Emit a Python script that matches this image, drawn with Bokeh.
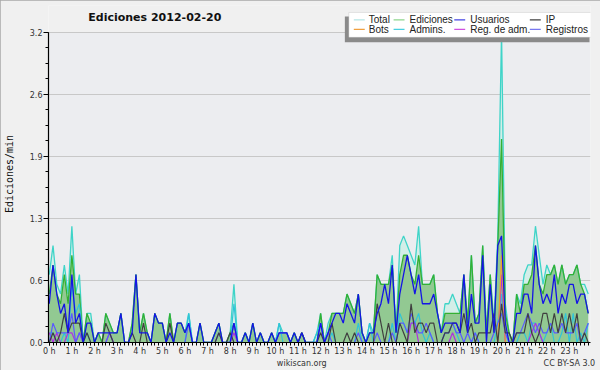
import math
from bokeh.plotting import figure
from bokeh.models import Range1d, FixedTicker, Label, BoxAnnotation, LinearAxis
from bokeh.embed import file_html
from bokeh.resources import INLINE

# ---------------- data (edits per minute, 10-minute buckets) ----------------
hour_labels = [f"{h} h" for h in range(24)]
ytick_values = [0, 0.64, 1.28, 1.92, 2.56, 3.2]
ytick_labels = ["0.0", "0.6", "1.3", "1.9", "2.6", "3.2"]
legend_names = ["Total", "Ediciones", "Usuarios", "IP",
                "Bots", "Admins.", "Reg. de adm.", "Registros"]
footer_texts = ["wikiscan.org", "CC BY-SA 3.0"]

total = [
    0.7, 1.0, 0.6, 0.5, 0.8, 0.5,
    1.2, 0.5, 0.7, 0.0, 0.3, 0.3,
    0.0, 0.1, 0.0, 0.3, 0.2, 0.1,
    0.1, 0.3, 0.0, 0.0, 0.2, 0.7,
    0.1, 0.3, 0.1, 0.0, 0.3, 0.2,
    0.2, 0.0, 0.3, 0.0, 0.2, 0.2,
    0.1, 0.3, 0.0, 0.0, 0.2, 0.0,
    0.0, 0.0, 0.1, 0.2, 0.0, 0.0,
    0.1, 0.6, 0.0, 0.0, 0.1, 0.0,
    0.2, 0.0, 0.1, 0.0, 0.0, 0.1,
    0.0, 0.2, 0.1, 0.1, 0.0, 0.1,
    0.0, 0.1, 0.0, 0.0, 0.0, 0.1,
    0.3, 0.0, 0.2, 0.3, 0.3, 0.3,
    0.3, 0.5, 0.4, 0.3, 0.5, 0.1,
    0.0, 0.2, 0.1, 0.7, 0.6, 0.6,
    0.6, 0.9, 0.1, 1.0, 1.1, 1.0,
    0.9, 0.8, 1.2, 0.6, 0.6, 0.6,
    0.7, 0.3, 0.1, 0.4, 0.4, 0.5,
    0.4, 0.3, 0.7, 0.2, 0.9, 0.2,
    0.3, 1.0, 0.1, 0.7, 0.2, 1.1,
    3.2, 0.4, 0.1, 0.0, 0.5, 0.4,
    0.7, 0.8, 0.8, 1.2, 0.9, 0.6,
    0.8, 0.7, 0.8, 0.6, 0.8, 0.6,
    0.7, 0.7, 0.8, 0.6, 0.6, 0.5,
]
ediciones = [
    0.5, 0.8, 0.5, 0.4, 0.7, 0.4,
    0.9, 0.5, 0.5, 0.0, 0.3, 0.2,
    0.0, 0.1, 0.0, 0.3, 0.2, 0.1,
    0.1, 0.3, 0.0, 0.0, 0.2, 0.7,
    0.1, 0.3, 0.1, 0.0, 0.3, 0.2,
    0.2, 0.0, 0.3, 0.0, 0.2, 0.2,
    0.1, 0.2, 0.0, 0.0, 0.2, 0.0,
    0.0, 0.0, 0.1, 0.2, 0.0, 0.0,
    0.1, 0.2, 0.0, 0.0, 0.1, 0.0,
    0.2, 0.0, 0.1, 0.0, 0.0, 0.1,
    0.0, 0.1, 0.1, 0.1, 0.0, 0.1,
    0.0, 0.1, 0.0, 0.0, 0.0, 0.0,
    0.3, 0.0, 0.1, 0.3, 0.3, 0.3,
    0.3, 0.5, 0.4, 0.3, 0.5, 0.1,
    0.0, 0.1, 0.1, 0.7, 0.6, 0.6,
    0.6, 0.8, 0.1, 0.7, 0.9, 0.9,
    0.7, 0.6, 0.9, 0.6, 0.6, 0.6,
    0.7, 0.3, 0.1, 0.3, 0.3, 0.3,
    0.3, 0.3, 0.7, 0.2, 0.9, 0.2,
    0.3, 1.0, 0.1, 0.7, 0.1, 1.0,
    2.1, 0.3, 0.1, 0.0, 0.5, 0.3,
    0.6, 0.6, 0.7, 1.0, 0.6, 0.5,
    0.7, 0.7, 0.8, 0.6, 0.8, 0.6,
    0.7, 0.7, 0.8, 0.6, 0.5, 0.3,
]
usuarios = [
    0.4, 0.8, 0.5, 0.3, 0.4, 0.1,
    0.7, 0.2, 0.3, 0.0, 0.2, 0.2,
    0.0, 0.1, 0.1, 0.1, 0.1, 0.1,
    0.1, 0.3, 0.0, 0.0, 0.1, 0.7,
    0.1, 0.1, 0.1, 0.0, 0.3, 0.2,
    0.2, 0.0, 0.1, 0.0, 0.2, 0.2,
    0.1, 0.2, 0.0, 0.0, 0.2, 0.0,
    0.0, 0.0, 0.1, 0.2, 0.0, 0.0,
    0.0, 0.2, 0.0, 0.0, 0.1, 0.0,
    0.2, 0.0, 0.1, 0.0, 0.0, 0.1,
    0.0, 0.1, 0.1, 0.1, 0.0, 0.1,
    0.0, 0.1, 0.0, 0.0, 0.0, 0.0,
    0.2, 0.0, 0.1, 0.2, 0.3, 0.3,
    0.2, 0.4, 0.3, 0.2, 0.5, 0.1,
    0.0, 0.1, 0.1, 0.3, 0.4, 0.6,
    0.4, 0.8, 0.1, 0.5, 0.7, 0.9,
    0.7, 0.5, 0.7, 0.4, 0.4, 0.4,
    0.5, 0.3, 0.1, 0.2, 0.2, 0.2,
    0.2, 0.1, 0.7, 0.1, 0.5, 0.2,
    0.2, 0.9, 0.0, 0.6, 0.1, 1.0,
    1.1, 0.2, 0.0, 0.0, 0.3, 0.3,
    0.5, 0.5, 0.3, 1.0, 0.6, 0.4,
    0.5, 0.4, 0.7, 0.3, 0.5, 0.4,
    0.6, 0.6, 0.4, 0.5, 0.5, 0.3,
]
ip = [
    0.0, 0.1, 0.0, 0.1, 0.3, 0.1,
    0.2, 0.2, 0.2, 0.0, 0.1, 0.0,
    0.0, 0.0, 0.0, 0.2, 0.1, 0.0,
    0.0, 0.0, 0.0, 0.0, 0.1, 0.0,
    0.0, 0.2, 0.0, 0.0, 0.0, 0.0,
    0.0, 0.0, 0.2, 0.0, 0.0, 0.0,
    0.0, 0.0, 0.0, 0.0, 0.0, 0.0,
    0.0, 0.0, 0.0, 0.1, 0.0, 0.0,
    0.1, 0.0, 0.0, 0.0, 0.0, 0.0,
    0.0, 0.0, 0.0, 0.0, 0.0, 0.0,
    0.0, 0.0, 0.0, 0.0, 0.0, 0.0,
    0.0, 0.1, 0.0, 0.0, 0.0, 0.0,
    0.1, 0.0, 0.0, 0.2, 0.0, 0.0,
    0.0, 0.1, 0.0, 0.1, 0.0, 0.0,
    0.0, 0.0, 0.0, 0.4, 0.2, 0.0,
    0.2, 0.0, 0.0, 0.2, 0.1, 0.0,
    0.4, 0.1, 0.2, 0.2, 0.1, 0.2,
    0.2, 0.0, 0.0, 0.1, 0.1, 0.2,
    0.2, 0.1, 0.3, 0.1, 0.2, 0.0,
    0.1, 0.1, 0.1, 0.1, 0.3, 0.0,
    0.4, 0.1, 0.1, 0.0, 0.1, 0.1,
    0.1, 0.3, 0.1, 0.0, 0.1, 0.3,
    0.3, 0.1, 0.3, 0.1, 0.3, 0.1,
    0.3, 0.1, 0.3, 0.0, 0.1, 0.0,
]
bots = [0.0] * 120 + [0.9] + [0.0] * 23
admins = [
    0.1, 0.1, 0.0, 0.0, 0.1, 0.0,
    0.6, 0.3, 0.4, 0.0, 0.1, 0.0,
    0.0, 0.0, 0.0, 0.0, 0.0, 0.0,
    0.0, 0.0, 0.0, 0.0, 0.0, 0.0,
    0.0, 0.0, 0.0, 0.0, 0.0, 0.0,
    0.0, 0.0, 0.0, 0.0, 0.0, 0.0,
    0.0, 0.3, 0.0, 0.0, 0.0, 0.0,
    0.0, 0.0, 0.0, 0.0, 0.0, 0.0,
    0.0, 0.4, 0.0, 0.0, 0.0, 0.0,
    0.0, 0.0, 0.0, 0.0, 0.0, 0.0,
    0.0, 0.2, 0.0, 0.0, 0.0, 0.0,
    0.0, 0.0, 0.0, 0.0, 0.0, 0.1,
    0.2, 0.0, 0.0, 0.1, 0.0, 0.0,
    0.0, 0.0, 0.0, 0.0, 0.2, 0.0,
    0.0, 0.2, 0.0, 0.0, 0.0, 0.0,
    0.0, 0.2, 0.0, 0.3, 0.2, 0.1,
    0.2, 0.2, 0.3, 0.1, 0.0, 0.1,
    0.0, 0.0, 0.0, 0.1, 0.1, 0.2,
    0.1, 0.0, 0.0, 0.0, 0.0, 0.1,
    0.0, 0.0, 0.0, 0.0, 0.0, 0.2,
    0.5, 0.1, 0.0, 0.0, 0.0, 0.1,
    0.1, 0.0, 0.2, 0.2, 0.1, 0.0,
    0.1, 0.2, 0.0, 0.0, 0.1, 0.3,
    0.0, 0.3, 0.0, 0.1, 0.0, 0.2,
]
reg_adm = [
    0.1, 0.0, 0.1, 0.0, 0.0, 0.1,
    0.1, 0.0, 0.1, 0.0, 0.0, 0.0,
    0.0, 0.0, 0.0, 0.0, 0.1, 0.0,
    0.0, 0.0, 0.0, 0.0, 0.0, 0.0,
    0.0, 0.0, 0.0, 0.0, 0.0, 0.0,
    0.0, 0.0, 0.0, 0.0, 0.0, 0.0,
    0.0, 0.0, 0.0, 0.0, 0.0, 0.0,
    0.0, 0.0, 0.0, 0.0, 0.0, 0.0,
    0.0, 0.1, 0.0, 0.0, 0.0, 0.0,
    0.0, 0.0, 0.0, 0.0, 0.0, 0.0,
    0.0, 0.0, 0.0, 0.0, 0.0, 0.0,
    0.0, 0.0, 0.0, 0.0, 0.0, 0.0,
    0.0, 0.0, 0.0, 0.0, 0.0, 0.0,
    0.0, 0.0, 0.0, 0.0, 0.0, 0.0,
    0.0, 0.0, 0.0, 0.0, 0.0, 0.0,
    0.0, 0.0, 0.0, 0.0, 0.0, 0.0,
    0.2, 0.2, 0.0, 0.0, 0.0, 0.0,
    0.0, 0.0, 0.0, 0.0, 0.0, 0.1,
    0.0, 0.0, 0.0, 0.0, 0.0, 0.0,
    0.0, 0.0, 0.0, 0.0, 0.0, 0.0,
    0.7, 0.0, 0.0, 0.0, 0.0, 0.0,
    0.0, 0.0, 0.1, 0.2, 0.1, 0.0,
    0.0, 0.0, 0.0, 0.0, 0.0, 0.0,
    0.0, 0.0, 0.0, 0.0, 0.0, 0.0,
]
registros = [
    0.0, 0.2, 0.1, 0.1, 0.1, 0.1,
    0.3, 0.0, 0.1, 0.0, 0.0, 0.0,
    0.0, 0.0, 0.0, 0.0, 0.1, 0.0,
    0.0, 0.0, 0.0, 0.0, 0.0, 0.0,
    0.0, 0.0, 0.0, 0.0, 0.0, 0.0,
    0.0, 0.0, 0.0, 0.0, 0.0, 0.0,
    0.0, 0.2, 0.0, 0.0, 0.0, 0.0,
    0.0, 0.0, 0.0, 0.1, 0.0, 0.0,
    0.0, 0.2, 0.0, 0.0, 0.0, 0.0,
    0.0, 0.0, 0.0, 0.0, 0.0, 0.0,
    0.0, 0.1, 0.1, 0.1, 0.0, 0.0,
    0.0, 0.0, 0.0, 0.0, 0.0, 0.0,
    0.2, 0.0, 0.1, 0.0, 0.0, 0.0,
    0.0, 0.0, 0.0, 0.0, 0.1, 0.0,
    0.0, 0.0, 0.0, 0.1, 0.0, 0.0,
    0.0, 0.1, 0.0, 0.2, 0.2, 0.1,
    0.3, 0.2, 0.1, 0.1, 0.2, 0.1,
    0.0, 0.0, 0.0, 0.1, 0.1, 0.2,
    0.1, 0.1, 0.0, 0.1, 0.0, 0.1,
    0.0, 0.0, 0.0, 0.0, 0.1, 0.2,
    0.3, 0.1, 0.0, 0.0, 0.1, 0.1,
    0.2, 0.3, 0.2, 0.1, 0.2, 0.1,
    0.1, 0.2, 0.1, 0.1, 0.2, 0.1,
    0.1, 0.1, 0.2, 0.0, 0.1, 0.2,
]
slot = list(range(len(total)))

# ---------------- geometry (screen px -> data) ----------------
FIG_W, FIG_H = 600, 370
ML, MR, MT, MB = 45, 10, 5, 26
PLOT_TOP_PX = 32                      # where 3.2 sits on screen
X0, X1 = -0.2, 143.6
SX = (FIG_W - ML - MR) / (X1 - X0)
SY = (FIG_H - MB - PLOT_TOP_PX) / ytick_values[-1]
Y0 = 0.0
Y1 = ytick_values[-1] + (PLOT_TOP_PX - MT) / SY


def dx(px):
    return X0 + (px - ML) / SX


def dy(py):
    return Y1 - (py - MT) / SY


p = figure(width=FIG_W, height=FIG_H, output_backend="svg", toolbar_location=None,
           x_range=Range1d(X0, X1), y_range=Range1d(Y0, Y1),
           min_border_left=ML, min_border_right=MR, min_border_top=MT,
           min_border_bottom=MB)
p.background_fill_color = "#f0f0f0"
p.border_fill_color = "#f0f0f0"
p.outline_line_color = None
p.styles = {"outline": "1px solid #a8a8a8", "outline-offset": "-1px"}

# plot-area background (only the data region)
p.add_layout(BoxAnnotation(bottom=0, top=ytick_values[-1], fill_color="#ecedf0",
                           fill_alpha=1.0, line_color=None, level="image"))

# axes
p.xaxis.ticker = FixedTicker(ticks=[6 * h for h in range(24)], minor_ticks=slot)
p.xaxis.major_label_overrides = {6 * h: lab for h, lab in enumerate(hour_labels)}
p.yaxis.ticker = FixedTicker(ticks=ytick_values,
                             minor_ticks=[round(0.16 * k, 2) for k in range(21)])
p.yaxis.major_label_overrides = dict(zip(ytick_values, ytick_labels))
p.yaxis.bounds = (0, ytick_values[-1])
for ax in (p.xaxis[0], p.yaxis[0]):
    ax.axis_line_color = "black"
    ax.axis_line_width = 1.2
    ax.major_tick_line_color = "black"
    ax.minor_tick_line_color = "black"
    ax.major_tick_in = 0
    ax.minor_tick_in = 0
    ax.major_label_text_font = "DejaVu Sans"
    ax.major_label_text_font_size = "8px"
    ax.major_label_text_color = "#333333"
p.xaxis.major_tick_out = 3
p.xaxis.minor_tick_out = 3
p.xaxis.major_label_standoff = 1
p.yaxis.major_tick_out = 5
p.yaxis.minor_tick_out = 3
p.yaxis.major_label_standoff = 1
p.yaxis.axis_label = "Ediciones/min"
p.yaxis.axis_label_text_font = "DejaVu Sans Mono"
p.yaxis.axis_label_text_font_size = "10px"
p.yaxis.axis_label_text_font_style = "normal"
p.yaxis.axis_label_text_color = "#111111"
p.yaxis.axis_label_standoff = 12

# footer texts as an extra, line-less axis row
foot_pos = [round(dx(299)), round(dx(569))]
foot = LinearAxis(ticker=FixedTicker(ticks=foot_pos, minor_ticks=[]),
                  major_label_overrides=dict(zip(foot_pos, footer_texts)),
                  axis_line_color=None, major_tick_line_color=None,
                  minor_tick_line_color=None, major_tick_out=0, minor_tick_out=0,
                  major_label_standoff=0, major_label_text_font="DejaVu Sans",
                  major_label_text_font_size="8px", major_label_text_color="#333333")
p.add_layout(foot, "below")

p.xgrid.visible = False
p.ygrid.ticker = FixedTicker(ticks=ytick_values[1:])
p.ygrid.grid_line_color = "#c8c8c8"

# series
p.varea(x=slot, y1=0, y2=total, fill_color="#d3eee8", fill_alpha=1.0)
p.varea(x=slot, y1=0, y2=ediciones, fill_color="#92c992", fill_alpha=1.0)
p.line(slot, total, line_color="#3fd4c8", line_width=1.3)
p.line(slot, ediciones, line_color="#34b034", line_width=1.3)
p.line(slot, admins, line_color="#30c4d8", line_width=1.2)
p.line(slot, reg_adm, line_color="#b030e0", line_width=1.2)
p.line(slot, bots, line_color="#f0a030", line_width=1.2)
p.line(slot, registros, line_color="#5a5aff", line_width=1.2)
p.line(slot, ip, line_color="#404040", line_width=1.2)
p.line(slot, usuarios, line_color="#1414e6", line_width=1.3)

# title
p.add_layout(Label(x=dx(85), y=dy(17), text="Ediciones  2012-02-20",
                   text_font="DejaVu Sans", text_font_style="bold",
                   text_font_size="11px", text_baseline="middle",
                   text_align="left", text_color="#111111"))

# legend (drawn by hand like the original)
p.add_layout(BoxAnnotation(left=dx(343), right=dx(589), top=dy(16), bottom=dy(42),
                           fill_color="#8a8a8a", fill_alpha=1.0, line_color=None,
                           level="overlay"))
p.add_layout(BoxAnnotation(left=dx(347), right=dx(591), top=dy(12), bottom=dy(37),
                           fill_color="white", fill_alpha=1.0, line_color="#b0b0b0",
                           line_width=1, level="overlay"))
legend_colors = ["#b5e6e6", "#8ed68e", "#4444e4", "#404040",
                 "#f0a040", "#48cfe0", "#d050e0", "#7878f0"]
swatch_x = [352, 392, 453, 529]
text_x = [367, 408, 469, 545]
row_y = [19.5, 29]
for k, (name, col) in enumerate(zip(legend_names, legend_colors)):
    r, c = divmod(k, 4)
    yy = row_y[r]
    p.add_layout(BoxAnnotation(left=dx(swatch_x[c]), right=dx(swatch_x[c] + 11),
                               top=dy(yy - 0.6), bottom=dy(yy + 0.6),
                               fill_color=col, fill_alpha=1.0, line_color=None,
                               level="overlay"))
    p.add_layout(Label(x=dx(text_x[c]), y=dy(yy), text=name,
                       text_font="Liberation Sans", text_font_size="10px",
                       text_baseline="middle", text_align="left",
                       text_color="#222222", level="overlay"))

open("out.html", "w").write(file_html(p, INLINE))
